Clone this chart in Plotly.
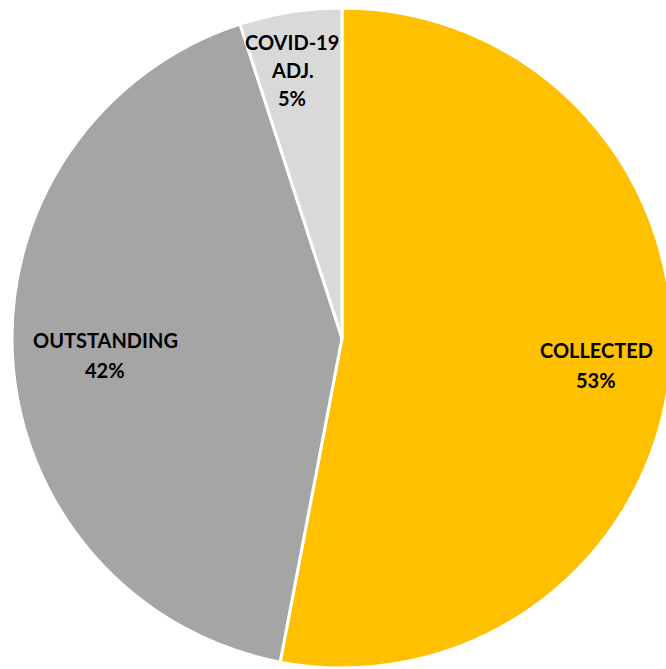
import plotly.graph_objects as go

labels = ["COLLECTED", "OUTSTANDING", "COVID-19 ADJ."]
values = [53, 42, 5]
colors = ["#FFC000", "#A5A5A5", "#D9D9D9"]
label_lines = [["COLLECTED", "53%"], ["OUTSTANDING", "42%"], ["COVID-19", "ADJ.", "5%"]]

W, H = 684, 669
cx, cy, r = 342, 338, 330

fig = go.Figure(go.Pie(
    labels=labels, values=values, sort=False, direction="clockwise", rotation=0,
    marker=dict(colors=colors, line=dict(color="white", width=3)),
    textinfo="none", hoverinfo="label+percent", showlegend=False,
    domain=dict(x=[(cx - r) / W, (cx + r) / W], y=[1 - (cy + r) / H, 1 - (cy - r) / H]),
))

# label block centres (pixels) and line spacing
label_pos = [(596, 365), (105, 355), (292, 70)]
spacing = [30, 30, 28]
for lines, (px, py), sp in zip(label_lines, label_pos, spacing):
    n = len(lines)
    for i, t in enumerate(lines):
        ly = py + (i - (n - 1) / 2) * sp
        fig.add_annotation(x=px / W, y=1 - ly / H, xref="paper", yref="paper", text=t,
                           showarrow=False, xanchor="center", yanchor="middle",
                           font=dict(family="Lato", size=20, color="black", weight="bold"))

fig.update_layout(width=W, height=H, margin=dict(l=0, r=0, t=0, b=0),
                  paper_bgcolor="white", plot_bgcolor="white")
fig.write_html("out.html", post_script="document.body.style.overflow='hidden';document.documentElement.style.overflow='hidden';")
